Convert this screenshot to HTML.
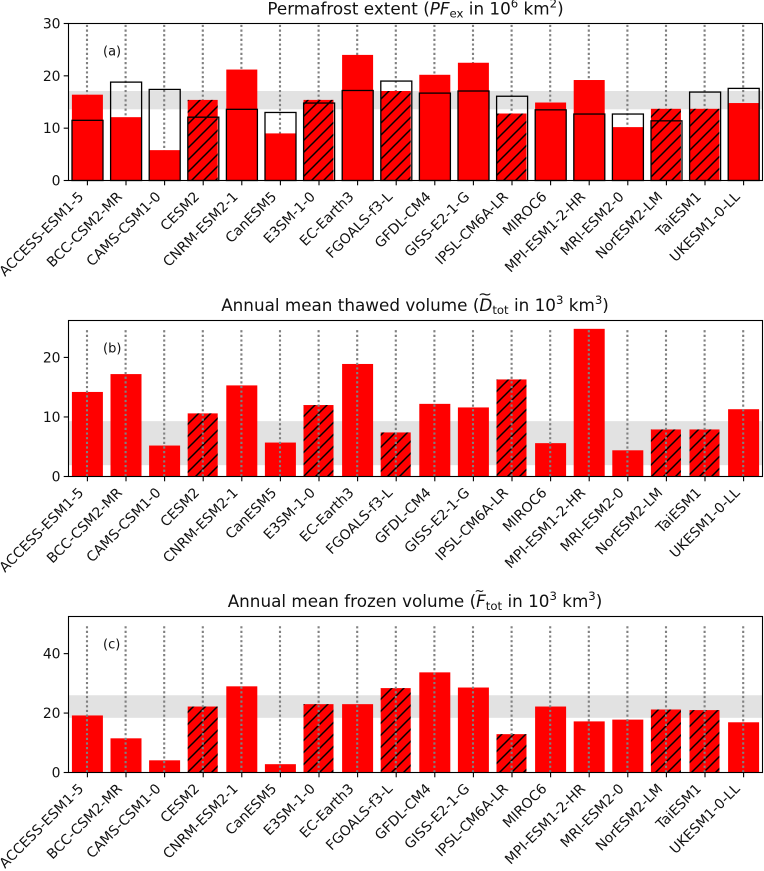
<!DOCTYPE html>
<html lang="en">
<head>
<meta charset="utf-8">
<title>Permafrost model comparison</title>
<style>
html,body{margin:0;padding:0;background:#fff;width:764px;height:871px;overflow:hidden}
svg{display:block}
text{font-family:"DejaVu Sans","Liberation Sans",sans-serif;fill:#111}
</style>
</head>
<body>
<svg id="chart" xmlns="http://www.w3.org/2000/svg" width="764" height="871" viewBox="0 0 764 871">
  <defs>
    <pattern id="hatch" patternUnits="userSpaceOnUse" width="12" height="12">
      <path d="M-3 3L3 -3M0 12L12 0M9 15L15 9" stroke="#000" stroke-width="1.5" fill="none"/>
    </pattern>
  </defs>
  <text x="415.5" y="14.5" text-anchor="middle" font-size="16.8">Permafrost extent (<tspan font-style="italic">PF</tspan><tspan font-size="11.7" dy="3">ex</tspan><tspan dy="-3"> in 10</tspan><tspan font-size="11.7" dy="-7">6</tspan><tspan dy="7"> km</tspan><tspan font-size="11.7" dy="-7">2</tspan><tspan dy="7">)</tspan></text>
  <text x="415" y="311" text-anchor="middle" font-size="16.8">Annual mean thawed volume (<tspan font-style="italic">D</tspan><tspan font-size="11.7" dy="3">tot</tspan><tspan dy="-3"> in 10</tspan><tspan font-size="11.7" dy="-7">3</tspan><tspan dy="7"> km</tspan><tspan font-size="11.7" dy="-7">3</tspan><tspan dy="7">)</tspan></text>
  <text x="415" y="607" text-anchor="middle" font-size="16.8">Annual mean frozen volume (<tspan font-style="italic">F</tspan><tspan font-size="11.7" dy="3">tot</tspan><tspan dy="-3"> in 10</tspan><tspan font-size="11.7" dy="-7">3</tspan><tspan dy="7"> km</tspan><tspan font-size="11.7" dy="-7">3</tspan><tspan dy="7">)</tspan></text>
  <text x="478" y="299" font-size="15" textLength="14" lengthAdjust="spacingAndGlyphs">~</text>
  <text x="474.5" y="595" font-size="13" textLength="10" lengthAdjust="spacingAndGlyphs">~</text>
  <g id="plots"></g>
</svg>
<script>
const models = ["ACCESS-ESM1-5","BCC-CSM2-MR","CAMS-CSM1-0","CESM2","CNRM-ESM2-1","CanESM5","E3SM-1-0","EC-Earth3","FGOALS-f3-L","GFDL-CM4","GISS-E2-1-G","IPSL-CM6A-LR","MIROC6","MPI-ESM1-2-HR","MRI-ESM2-0","NorESM2-LM","TaiESM1","UKESM1-0-LL"];
const hatchedModels = ["CESM2","E3SM-1-0","FGOALS-f3-L","IPSL-CM6A-LR","NorESM2-LM","TaiESM1"];
const extentValues = [16.4,12.1,5.8,15.4,21.2,9.0,15.4,24.0,17.1,20.2,22.5,12.8,14.9,19.2,10.2,13.7,13.7,14.8];
const extentObserved = [11.5,18.8,17.4,12.1,13.6,13.0,14.8,17.2,19.0,16.7,17.1,16.1,13.5,12.7,12.7,11.4,16.9,17.6];
const thawedValues = [14.2,17.2,5.2,10.6,15.3,5.7,12.0,18.9,7.4,12.2,11.6,16.3,5.6,24.8,4.4,7.9,7.9,11.3];
const frozenValues = [19.2,11.5,4.1,22.2,29.0,2.8,23.0,23.0,28.4,33.7,28.6,12.9,22.2,17.2,17.8,21.2,21.0,16.9];
const extentBand = [13.6,17.1];
const thawedBand = [1.9,9.3];
const frozenBand = [18.4,26.0];
const extentTicks = [0,10,20,30];
const thawedTicks = [0,10,20];
const frozenTicks = [0,20,40];
const extentLimits = [0,30];
const thawedLimits = [0,26.2];
const frozenLimits = [0,52.5];
const extentGuide = [30];
const thawedGuide = [24.6];
const frozenGuide = [49.2];

const NS = "http://www.w3.org/2000/svg";
const root = document.getElementById("plots");
const LEFT = 68.5, RIGHT = 762.5;

function make(parent, tag, attrs){
  const el = document.createElementNS(NS, tag);
  for (const k in attrs) el.setAttribute(k, attrs[k]);
  parent.appendChild(el);
  return el;
}
function xAxis(i){ return 87.4 + 38.6 * i; }
function yAxisFor(limits, top, bottom){
  return v => bottom - (v - limits[0]) / (limits[1] - limits[0]) * (bottom - top);
}

function drawPanel(cfg){
  const y = yAxisFor(cfg.limits, cfg.top, cfg.bottom);
  const g = make(root, "g", {});
  
  

  const band = make(g, "rect", {x: LEFT, width: RIGHT - LEFT, y: y(cfg.band[1]), height: y(cfg.band[0]) - y(cfg.band[1]), fill: "#e2e2e2"});
  
  

  function guides(){
    models.forEach((m, i) => {
      const line = make(g, "line", {x1: xAxis(i) - 0.4, x2: xAxis(i) - 0.4, y1: cfg.bottom, y2: y(cfg.guide[0]), stroke: "#808080", "stroke-width": 2.1, "stroke-dasharray": "2.2 2.45"});
      
      
    });
  }
  if (cfg.outline) guides();

  models.forEach((m, i) => {
    const hatched = hatchedModels.includes(m);
    const w = hatched ? 30 : 31;
    const bx = xAxis(i) - 15.5;
    const bar = make(g, "rect", {x: bx, width: w, y: y(cfg.values[i]), height: cfg.bottom - y(cfg.values[i]), fill: "#ff0000"});
    
    
    if (hatched){
      const h = make(g, "rect", {x: bx, width: w, y: y(cfg.values[i]), height: cfg.bottom - y(cfg.values[i]), fill: "url(#hatch)"});
      
      
    }
  });

  if (cfg.outline){
    models.forEach((m, i) => {
      const o = make(g, "rect", {x: xAxis(i) - 15.4, width: 31, y: y(cfg.outline[i]), height: cfg.bottom - y(cfg.outline[i]), fill: "none", stroke: "#000", "stroke-width": 1.3});
      
      
    });
  } else {
    guides();
  }

  const frame = make(g, "rect", {x: LEFT, y: cfg.top, width: RIGHT - LEFT, height: cfg.bottom - cfg.top, fill: "none", stroke: "#000", "stroke-width": 1.1});
  
  

  cfg.ticks.forEach(t => {
    const tick = make(g, "line", {x1: LEFT - 4.8, x2: LEFT, y1: y(t), y2: y(t), stroke: "#000", "stroke-width": 1.1});
    
    
    const lab = make(g, "text", {x: LEFT - 8, y: y(t) + 5, "text-anchor": "end", "font-size": 13.9});
    
    
    lab.textContent = t;
  });

  models.forEach((m, i) => {
    const tick = make(g, "line", {x1: xAxis(i), x2: xAxis(i), y1: cfg.bottom, y2: cfg.bottom + 4.8, stroke: "#000", "stroke-width": 1.1});
    
    
    const lx = xAxis(i) - 3, ly = cfg.bottom + 17;
    const lab = make(g, "text", {x: lx, y: ly, "text-anchor": "end", "font-size": 13.9, transform: `rotate(-45 ${lx} ${ly})`});
    
    
    lab.textContent = m;
  });

  const tag = make(g, "text", {x: 103, y: cfg.top + 32, "font-size": 13});
  
  
  tag.textContent = cfg.letter;
}

drawPanel({name: "panel-permafrost-extent", top: 23.5, bottom: 180.5, limits: extentLimits, values: extentValues, outline: extentObserved, band: extentBand, ticks: extentTicks, guide: extentGuide, letter: "(a)"});
drawPanel({name: "panel-thawed-volume", top: 320.5, bottom: 476.5, limits: thawedLimits, values: thawedValues, outline: null, band: thawedBand, ticks: thawedTicks, guide: thawedGuide, letter: "(b)"});
drawPanel({name: "panel-frozen-volume", top: 616.5, bottom: 772.5, limits: frozenLimits, values: frozenValues, outline: null, band: frozenBand, ticks: frozenTicks, guide: frozenGuide, letter: "(c)"});
</script>
</body>
</html>
